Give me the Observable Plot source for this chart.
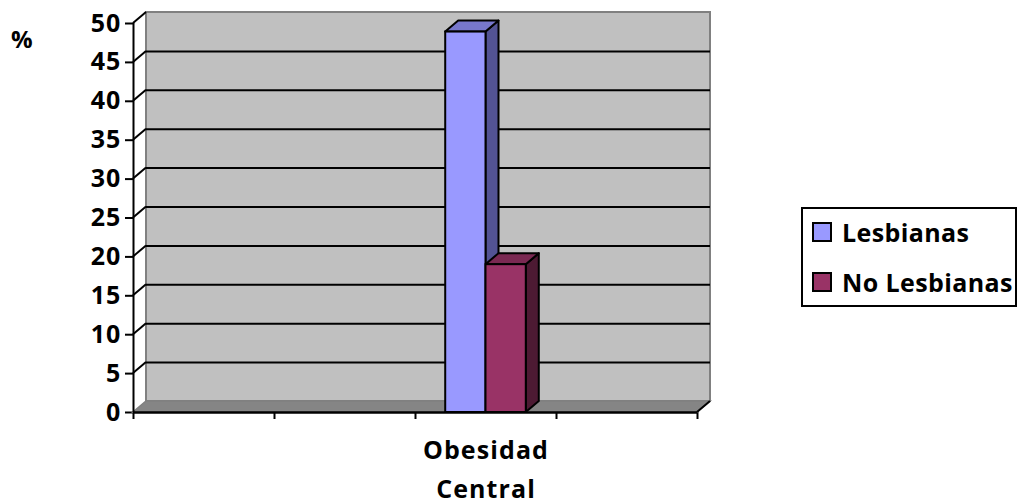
<!DOCTYPE html>
<html><head><meta charset="utf-8">
<script src="https://cdn.jsdelivr.net/npm/d3@7"></script>
<script src="https://cdn.jsdelivr.net/npm/@observablehq/plot@0.6"></script>
<style>
body{margin:0;background:#fff;}
#wrap{position:relative;width:1018px;height:503px;overflow:hidden;font-family:"Open Sans",sans-serif;font-weight:bold;color:#000;}
#wrap svg{position:absolute;left:0;top:0;}
#wrap svg text{letter-spacing:1.1px;}
#pct{position:absolute;left:11px;top:27px;font-size:24px;line-height:1;}
#legend{position:absolute;left:801px;top:207px;width:216px;height:100px;border:2px solid #000;box-sizing:border-box;}
.item{position:absolute;left:9px;height:24px;display:flex;align-items:center;font-size:25px;letter-spacing:0.4px;white-space:nowrap;}
.sw{width:20px;height:20px;border:2px solid #000;box-sizing:border-box;margin-right:10px;flex:none;}
#wrap svg [aria-label^="y-axis"] line, #wrap svg [aria-label^="y-axis"] path,
#wrap svg [aria-label^="x-axis"] line, #wrap svg [aria-label^="x-axis"] path{stroke-width:2px;}
</style>
</head><body>
<div id="wrap"><div id="pct">%</div><div id="legend"></div></div>
<script>
// ---- data ----
const categories = ["", "", "Obesidad Central", ""];
const series = ["Lesbianas", "No Lesbianas"];
const valuesObesidadCentral = [48.9, 19.0];
const yTicks = [0, 5, 10, 15, 20, 25, 30, 35, 40, 45, 50];
const frontColors = ["#9999FF", "#993366"];
const topColors = ["#7777CC", "#7A2952"];
const sideColors = ["#535394", "#4D1A33"];

// ---- derived ----
const xDomain = [0, categories.length];
const yDomain = [0, 50];
const gapWidth = 1.5; // Excel gap width 150%
const barW = 1 / (series.length + gapWidth);
const rows = series.map((s, j) => {
  const ci = categories.indexOf("Obesidad Central");
  const x1 = ci + (gapWidth * barW) / 2 + j * barW;
  return {category: "Obesidad Central", series: s, value: valuesObesidadCentral[j], x1, x2: x1 + barW, j};
});
const DX = 13, DY = -11;

function walls(index, scales) {
  const {x, y} = scales;
  const g = d3.create("svg:g");
  const x0 = x(xDomain[0]), x4 = x(xDomain[1]), y0 = y(yDomain[0]), y50 = y(yDomain[1]);
  g.append("rect").attr("x", x0 + DX).attr("y", y50 + DY).attr("width", x4 - x0).attr("height", y0 - y50)
    .attr("fill", "#C0C0C0").attr("stroke", "#808080").attr("stroke-width", 2);
  g.append("path").attr("d", `M${x0},${y0}L${x4},${y0}L${x4 + DX},${y0 + DY}L${x0 + DX},${y0 + DY}Z`)
    .attr("fill", "#858585").attr("stroke", "#808080").attr("stroke-width", 1.5);
  g.append("path").attr("d", `M${x4},${y0}L${x4 + DX},${y0 + DY}`).attr("stroke", "#000").attr("stroke-width", 2);
  for (const v of yTicks) {
    if (v === yDomain[0]) continue;
    g.append("path").attr("d", `M${x0},${y(v)}L${x0 + DX},${y(v) + DY}`).attr("stroke", "#000").attr("stroke-width", 2);
  }
  return g.node();
}

function bars3d(index, scales) {
  const {x, y} = scales;
  const g = d3.create("svg:g");
  const y0 = y(0);
  for (const r of rows) {
    const xa = x(r.x1), xb = x(r.x2), yv = y(r.value);
    g.append("path").attr("d", `M${xb},${yv}L${xb + DX},${yv + DY}L${xb + DX},${y0 + DY}L${xb},${y0}Z`)
      .attr("fill", sideColors[r.j]).attr("stroke", "#000").attr("stroke-width", 2).attr("stroke-linejoin", "round");
    g.append("path").attr("d", `M${xa},${yv}L${xa + DX},${yv + DY}L${xb + DX},${yv + DY}L${xb},${yv}Z`)
      .attr("fill", topColors[r.j]).attr("stroke", "#000").attr("stroke-width", 2).attr("stroke-linejoin", "round");
  }
  return g.node();
}

const labels = categories.map((c, i) => ({c, i})).filter(d => d.c !== "");

const chart = Plot.plot({
  width: 1018,
  height: 503,
  marginLeft: 133,
  marginRight: 321,
  marginTop: 23,
  marginBottom: 91,
  style: {fontFamily: "Open Sans, sans-serif", fontSize: "25px", fontWeight: "bold", color: "#000", background: "transparent"},
  x: {domain: xDomain, ticks: [0, 1, 2, 3, 4], tickFormat: () => "", tickSize: 7, label: null},
  y: {domain: yDomain, ticks: yTicks, tickSize: 8, tickPadding: 4, label: null},
  marks: [
    walls,
    Plot.ruleY(yTicks.filter(v => v > yDomain[0] && v < yDomain[1]), {x1: xDomain[0], x2: xDomain[1], dx: DX, dy: DY, stroke: "#000", strokeWidth: 2}),
    bars3d,
    Plot.rect(rows, {x1: "x1", x2: "x2", y1: 0, y2: "value", fill: d => frontColors[d.j], stroke: "#000", strokeWidth: 2}),
    Plot.ruleX([xDomain[0]], {y1: yDomain[0], y2: yDomain[1], stroke: "#000", strokeWidth: 2}),
    Plot.ruleY([yDomain[0]], {x1: xDomain[0], x2: xDomain[1], stroke: "#000", strokeWidth: 2.5}),
    Plot.text(labels, {x: d => d.i + 0.5, y: () => 0, text: d => d.c.split(" ")[0], dy: 38, fontSize: 25, textAnchor: "middle", fill: "#000"}),
    Plot.text(labels, {x: d => d.i + 0.5, y: () => 0, text: d => d.c.split(" ").slice(1).join(" "), dy: 77, fontSize: 25, textAnchor: "middle", fill: "#000"})
  ]
});
document.getElementById("wrap").insertBefore(chart, document.getElementById("pct"));

const legend = document.getElementById("legend");
series.forEach((s, j) => {
  const it = document.createElement("div");
  it.className = "item";
  it.style.top = (j === 0 ? 11 : 61) + "px";
  const sw = document.createElement("div");
  sw.className = "sw";
  sw.style.background = frontColors[j];
  const t = document.createElement("span");
  t.textContent = s;
  it.appendChild(sw); it.appendChild(t);
  legend.appendChild(it);
});
</script>
</body></html>
